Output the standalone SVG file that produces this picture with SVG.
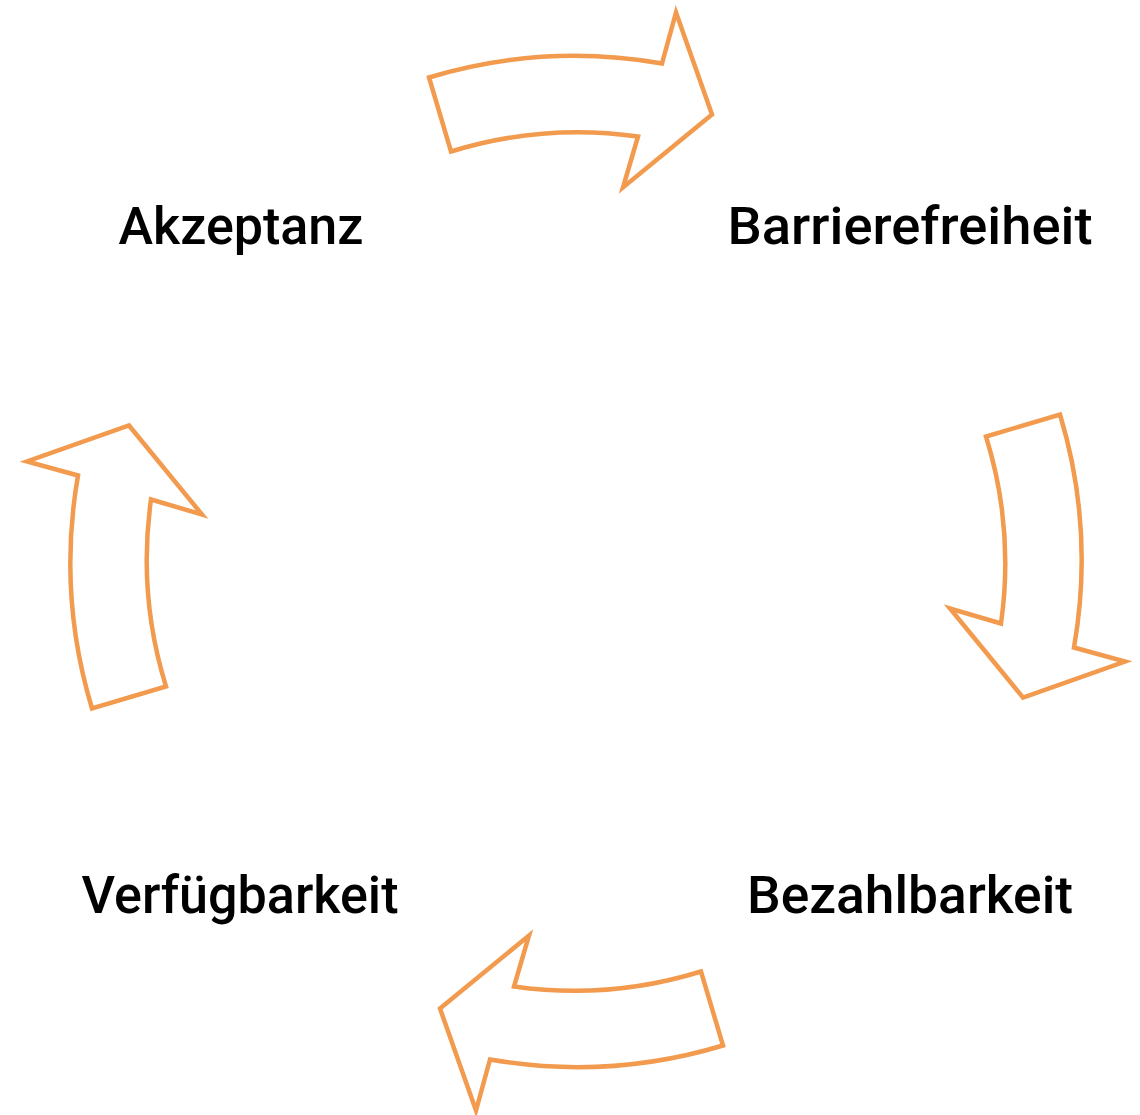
<svg xmlns="http://www.w3.org/2000/svg" width="1140" height="1115" viewBox="0 0 1140 1115">
<style>
.arrow{fill:#fff;stroke:#F29A4D;stroke-width:4.5;stroke-linejoin:miter}
.lbl{font-family:Roboto,"Liberation Sans",sans-serif;font-weight:500;font-size:51px;fill:#000;text-anchor:middle}
</style>
<defs>
<path id="arr" d="M -147,-484 A 506 506 0 0 1 86,-498 L 100,-549 L 136,-447 L 47,-374 L 62,-425 A 429 429 0 0 0 -125,-410 Z"/>
</defs>
<rect width="1140" height="1115" fill="#fff"/>
<g id="connectors">
<use href="#arr" class="arrow" transform="translate(576,561.5)"/>
<use href="#arr" class="arrow" transform="translate(576,561.5) rotate(90)"/>
<use href="#arr" class="arrow" transform="translate(576,561.5) rotate(180)"/>
<use href="#arr" class="arrow" transform="translate(576,561.5) rotate(270)"/>
</g>
<g id="akzeptanz"><text class="lbl" x="241" y="244" textLength="245" lengthAdjust="spacingAndGlyphs">Akzeptanz</text></g>
<g id="barrierefreiheit"><text class="lbl" x="910" y="244" textLength="365" lengthAdjust="spacingAndGlyphs">Barrierefreiheit</text></g>
<g id="bezahlbarkeit"><text class="lbl" x="910" y="913" textLength="326" lengthAdjust="spacingAndGlyphs">Bezahlbarkeit</text></g>
<g id="verfuegbarkeit"><text class="lbl" x="240" y="913" textLength="317" lengthAdjust="spacingAndGlyphs">Verfügbarkeit</text></g>
</svg>
